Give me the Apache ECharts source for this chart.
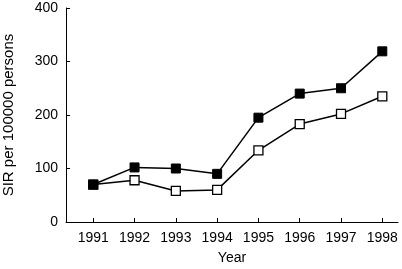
<!DOCTYPE html>
<html><head><meta charset="utf-8">
<script src="https://cdn.jsdelivr.net/npm/echarts@6/dist/echarts.min.js"></script>
<style>html,body{margin:0;padding:0;background:#fff}#c{width:402px;height:269px}</style>
</head><body><div id="c"></div>
<script>
const years = [1991, 1992, 1993, 1994, 1995, 1996, 1997, 1998];
const filledValues = [70, 102, 100, 90, 195, 240, 250, 319];
const openValues = [70, 78, 58, 60, 134, 183, 202, 235];
const yTicks = [0, 100, 200, 300, 400];

const font = 'Liberation Sans, Arial, Helvetica, sans-serif';
const chart = echarts.init(document.getElementById('c'));
chart.setOption({
  animation: false,
  backgroundColor: '#fff',
  grid: { left: 66, right: 4, top: 8, bottom: 47, containLabel: false, outerBoundsMode: 'none' },
  xAxis: {
    type: 'value', min: 1990.34, max: 1998.38,
    name: 'Year', nameLocation: 'middle', nameGap: 29,
    nameTextStyle: { fontFamily: font, fontSize: 14, color: '#000' },
    axisLine: { lineStyle: { color: '#000', width: 1 } },
    axisTick: { inside: true, length: 4, customValues: years, lineStyle: { color: '#000' } },
    axisLabel: { customValues: years, margin: 9, fontFamily: font, fontSize: 14, color: '#000', formatter: v => String(v) },
    splitLine: { show: false }
  },
  yAxis: {
    type: 'value', min: 0, max: 400, interval: 100,
    name: 'SIR per 100000 persons', nameLocation: 'middle', nameGap: 50,
    nameTextStyle: { fontFamily: font, fontSize: 15, color: '#000' },
    axisLine: { show: true, lineStyle: { color: '#000', width: 1 } },
    axisTick: { show: true, inside: true, length: 4, lineStyle: { color: '#000' } },
    axisLabel: { margin: 8, fontFamily: font, fontSize: 14, color: '#000', customValues: yTicks },
    splitLine: { show: false }
  },
  series: [
    {
      type: 'line', data: years.map((y, i) => [y, openValues[i]]),
      symbol: 'rect', symbolSize: 9,
      lineStyle: { color: '#000', width: 1.5 },
      itemStyle: { color: '#fff', borderColor: '#000', borderWidth: 1.3 },
      z: 2
    },
    {
      type: 'line', data: years.map((y, i) => [y, filledValues[i]]),
      symbol: 'rect', symbolSize: 9,
      lineStyle: { color: '#000', width: 1.5 },
      itemStyle: { color: '#000', borderColor: '#000', borderWidth: 1 },
      z: 3
    }
  ]
});
</script></body></html>
